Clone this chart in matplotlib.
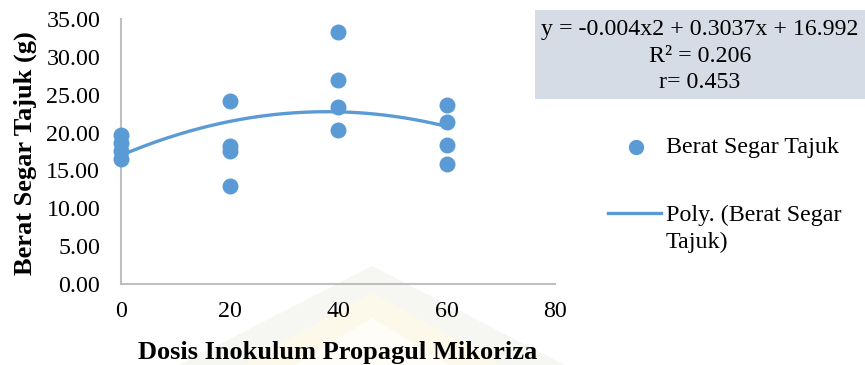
import numpy as np
import matplotlib.pyplot as plt
from matplotlib.lines import Line2D
from matplotlib.patches import Rectangle, Polygon

plt.rcParams['font.family'] = ['Liberation Serif', 'DejaVu Serif']

# Dosis inokulum (x) dan berat segar tajuk (g) per ulangan
dosis = [0, 0, 0, 0, 20, 20, 20, 20, 40, 40, 40, 40, 60, 60, 60, 60]
berat = [19.7, 18.6, 17.6, 16.5,
         24.2, 18.2, 17.6, 12.9,
         33.3, 27.0, 23.4, 20.4,
         23.6, 21.4, 18.4, 15.9]

# Koefisien regresi polinomial orde 2
a2, a1, a0 = -0.004, 0.3037, 16.992
r2 = 0.206
r = 0.453

W, H = 865, 365
fig = plt.figure(figsize=(W / 100, H / 100), dpi=100)

def fx(px):
    return px / W

def fy(py):
    return 1 - py / H

# watermark logo samar di belakang
outer = Polygon([[fx(372), fy(266)], [fx(150), fy(380)], [fx(594), fy(380)]],
                closed=True, transform=fig.transFigure, facecolor='#F6F6F3',
                edgecolor='none', zorder=-3)
inner = Polygon([[fx(372), fy(292)], [fx(215), fy(380)], [fx(529), fy(380)]],
                closed=True, transform=fig.transFigure, facecolor='#FCF9EA',
                edgecolor='none', zorder=-2)
core = Polygon([[fx(372), fy(318)], [fx(270), fy(380)], [fx(474), fy(380)]],
               closed=True, transform=fig.transFigure, facecolor='#FEFDF8',
               edgecolor='none', zorder=-1)
fig.add_artist(outer)
fig.add_artist(inner)
fig.add_artist(core)

ax = fig.add_axes([fx(121), fy(284), (555 - 121) / W, (284 - 19) / H])
ax.patch.set_alpha(0)

ax.scatter(dosis, berat, s=110, color='#5B9BD5', zorder=3, clip_on=False)

xs = np.linspace(0, 60, 200)
ax.plot(xs, a2 * xs ** 2 + a1 * xs + a0, color='#5B9BD5', lw=2.4, zorder=2)

ax.set_xlim(0, 80)
ax.set_ylim(0, 35)
ax.set_xticks([0, 20, 40, 60, 80])
ax.set_yticks(np.arange(0, 36, 5))
ax.set_yticklabels([f'{v:.2f}' for v in np.arange(0, 36, 5)])
ax.tick_params(length=0, labelsize=17.3)
ax.tick_params(axis='x', pad=12)
ax.tick_params(axis='y', pad=15)
for side in ['top', 'right']:
    ax.spines[side].set_visible(False)
for side in ['left', 'bottom']:
    ax.spines[side].set_color('#BFBFBF')
    ax.spines[side].set_linewidth(1.5)

fig.text(fx(338), fy(352), 'Dosis Inokulum Propagul Mikoriza', fontsize=19,
         fontweight='bold', ha='center', va='center')
fig.text(fx(25), fy(153), 'Berat Segar Tajuk (g)', fontsize=19,
         fontweight='bold', ha='center', va='center', rotation=90)

# kotak persamaan regresi
fig.add_artist(Rectangle((fx(535), fy(99)), (865 - 535) / W, (99 - 10) / H,
                         transform=fig.transFigure, facecolor='#D6DCE5',
                         edgecolor='none'))
fig.text(fx(700), fy(30), f'y = {a2}x2 + {a1}x + {a0}', fontsize=17.2,
         ha='center', va='center')
fig.text(fx(700), fy(56), f'R² = {r2}', fontsize=17.2, ha='center', va='center')
fig.text(fx(700), fy(82), f'r= {r}', fontsize=17.2, ha='center', va='center')

# legenda
fig.add_artist(Line2D([fx(636)], [fy(147)], marker='o', markersize=10,
                      color='#5B9BD5', linestyle='none',
                      transform=fig.transFigure))
fig.text(fx(666), fy(148), 'Berat Segar Tajuk', fontsize=17.3, va='center')
fig.add_artist(Line2D([fx(608), fx(661)], [fy(213), fy(213)], lw=2.4,
                      color='#5B9BD5', transform=fig.transFigure))
fig.text(fx(666), fy(215), 'Poly. (Berat Segar', fontsize=17.3, va='center')
fig.text(fx(666), fy(242), 'Tajuk)', fontsize=17.3, va='center')

fig.savefig('out.png', dpi=100)
